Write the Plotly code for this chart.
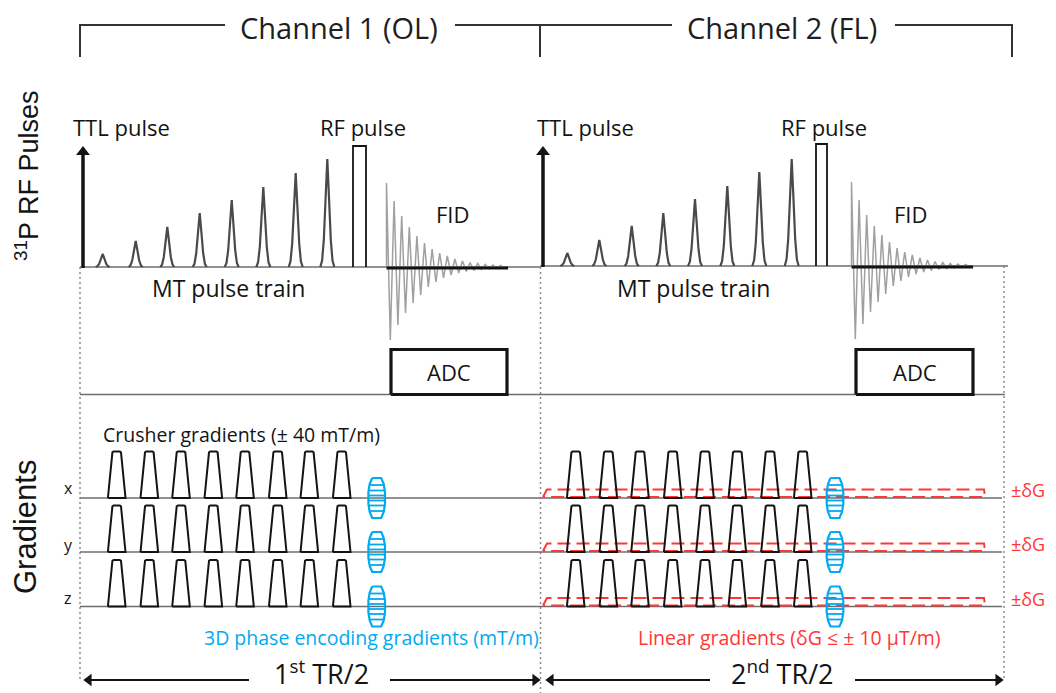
import plotly.graph_objects as go

W, H = 1056, 693

# ---------------- data (diagram coordinates: time -> x, amplitude -> y) ----------------
bracket_x = [80, 540, 1012]
bracket_y = [25, 57]
ch_titles = ["Channel 1 (OL)", "Channel 2 (FL)"]
ch_title_x = [339, 782]
ch_title_gap = [(225, 455), (672, 895)]

rf_base = [267, 266]
ttl_t = [83, 543]
ttl_top = 146
mt_t_ch1 = [102.7, 135.7, 167.3, 199.7, 231.7, 263.3, 295.7, 327.3]
mt_amp_ch1 = [13, 26, 40, 54, 67, 80, 94, 108]
mt_t_ch2 = [567.3, 599.3, 631.7, 663.3, 695.0, 727.3, 759.3, 791.7]
mt_amp_ch2 = [13, 26, 40, 53, 67, 80, 94, 107]
mt_profile_dt = [-7, -5.2, -3.5, -1.8, 0, 1.8, 3.5, 5.2, 7]
mt_profile = [0, 0.06, 0.25, 0.62, 1, 0.62, 0.25, 0.06, 0]
rf_start = [353, 816]
rf_end = [366, 827]
rf_amp = [121, 122]

fid_start = [386.5, 851.5]
fid_halfperiod = 3.8
fid_up = [84, 66, 51, 40, 31, 24, 18, 14, 11, 8, 6, 4.5, 3.5, 2.5, 2, 1.5]
fid_down = [73, 58, 46, 36, 28, 20, 15, 11, 8, 6, 4.5, 3.5, 2.5, 2, 1.5, 1]

adc_base = 394.5
adc_start = [391, 856]
adc_end = [507, 973]
adc_height = 45

grad_base = [498, 552, 606.5]
grad_labels = ["x", "y", "z"]
crusher_t_ch1 = [116.7, 149.3, 181.0, 213.3, 245.0, 277.7, 309.3, 341.7]
crusher_t_ch2 = [575.7, 608.3, 640.0, 672.7, 705.0, 737.3, 770.0, 802.7]
crusher_amp = 46.5
crusher_half_bottom = 8.8
crusher_half_top = 3.7
pe_t = [376.7, 835.0]
pe_outline_dx = [-4.5, 4.5, 7, 8.3, 8.3, 7, 4.5, -4.5, -7, -8.3, -8.3, -7, -4.5]
pe_outline_dy = [-20, -20, -14, -6, 6, 14, 20, 20, 14, 6, -6, -14, -20]
pe_stripe_dy = [-13, -7.5, -2.5, 2.5, 7.5, 13]
pe_stripe_dx = [6.5, 8, 8.3, 8.3, 8, 6.5]
lin_start, lin_end, lin_amp = 543, 985, 8.5

tr_y = 680
tr_segments = [(249, 84), (390, 540), (710, 546), (855, 1003)]
dotted_x = [80, 540.5, 1004]
dotted_y0 = [267, 267, 266]
dotted_y1 = [680, 693, 680]

BLACK = "#141414"
GRAY = "#6e6e6e"
BLUE = "rgb(0,170,240)"
RED = "rgb(255,55,55)"
FONT = "Open Sans"

fig = go.Figure()


def add_line(xs, ys, color=BLACK, width=2, dash=None):
    fig.add_trace(go.Scatter(x=xs, y=ys, mode="lines",
                             line=dict(color=color, width=width, dash=dash),
                             hoverinfo="skip", showlegend=False))


def add_head(x, y, symbol, size, color=BLACK):
    fig.add_trace(go.Scatter(x=[x], y=[y], mode="markers",
                             marker=dict(symbol=symbol, size=size, color=color,
                                         line=dict(width=0)),
                             hoverinfo="skip", showlegend=False))


# dotted time boundaries
for x, y0, y1 in zip(dotted_x, dotted_y0, dotted_y1):
    add_line([x, x], [y0, y1], color="#8a8a8a", width=1.5, dash="2px,3px")

# header brackets
for i in range(2):
    xl, xr = bracket_x[i], bracket_x[i + 1]
    g0, g1 = ch_title_gap[i]
    add_line([xl, xl, g0], [bracket_y[1], bracket_y[0], bracket_y[0]], color="#333333", width=2)
    add_line([g1, xr, xr], [bracket_y[0], bracket_y[0], bracket_y[1]], color="#333333", width=2)

# RF baselines
add_line([80, 540], [rf_base[0], rf_base[0]], color=GRAY, width=1.5)
add_line([540, 1008], [rf_base[1], rf_base[1]], color=GRAY, width=1.5)

# MT pulse trains
for ch, (ts, amps) in enumerate([(mt_t_ch1, mt_amp_ch1), (mt_t_ch2, mt_amp_ch2)]):
    b = rf_base[ch]
    xs, ys = [], []
    for t, a in zip(ts, amps):
        xs += [t + d for d in mt_profile_dt] + [None]
        ys += [b - a * p for p in mt_profile] + [None]
    add_line(xs, ys, color="#4a4a4a", width=2.2)

# RF hard pulses
for ch in range(2):
    b = rf_base[ch]
    add_line([rf_start[ch], rf_start[ch], rf_end[ch], rf_end[ch]],
             [b, b - rf_amp[ch], b - rf_amp[ch], b], color=BLACK, width=1.8)

# FID
for ch in range(2):
    b = rf_base[ch]
    xs, ys = [fid_start[ch]], [b]
    t = fid_start[ch]
    for up, dn in zip(fid_up, fid_down):
        xs += [t, t + fid_halfperiod]
        ys += [b - up, b + dn]
        t += 2 * fid_halfperiod
    xs.append(t)
    ys.append(b)
    add_line(xs, ys, color="#a0a0a0", width=1.5)
    add_line([fid_start[ch], t], [b + 1, b + 1], color=BLACK, width=3)

# TTL arrows
for ch in range(2):
    add_line([ttl_t[ch], ttl_t[ch]], [rf_base[ch] + 1, ttl_top + 8], color=BLACK, width=3.5)
    add_head(ttl_t[ch], ttl_top + 6, "triangle-up", 12)

# ADC row
add_line([80, 1005], [adc_base, adc_base], color=GRAY, width=1.5)
for ch in range(2):
    add_line([adc_start[ch], adc_start[ch], adc_end[ch], adc_end[ch], adc_start[ch]],
             [adc_base, adc_base - adc_height, adc_base - adc_height, adc_base, adc_base],
             color=BLACK, width=3.2)

# Gradient rows
for b in grad_base:
    add_line([80, 1002], [b, b], color=GRAY, width=1.6)

# red linear gradients (channel 2)
for b in grad_base:
    add_line([lin_start, lin_start + 4, lin_end - 1, lin_end, lin_start],
             [b - 1, b - lin_amp, b - lin_amp, b - 1, b - 1],
             color=RED, width=2, dash="13px,6px")

# crusher gradients
for ts in (crusher_t_ch1, crusher_t_ch2):
    for b in grad_base:
        xs, ys = [], []
        for t in ts:
            xs += [t - crusher_half_bottom, t - crusher_half_top - 0.6, t - crusher_half_top + 0.6,
                   t + crusher_half_top - 0.6, t + crusher_half_top + 0.6, t + crusher_half_bottom,
                   t - crusher_half_bottom, None]
            ys += [b, b - crusher_amp + 0.8, b - crusher_amp, b - crusher_amp,
                   b - crusher_amp + 0.8, b, b, None]
        add_line(xs, ys, color=BLACK, width=2)

# 3D phase encoding gradient tables
for t in pe_t:
    for b in grad_base:
        add_line([t + d for d in pe_outline_dx], [b + d for d in pe_outline_dy], color=BLUE, width=2.2)
        xs, ys = [], []
        for dy, dx in zip(pe_stripe_dy, pe_stripe_dx):
            xs += [t - dx, t + dx, None]
            ys += [b + dy, b + dy, None]
        add_line(xs, ys, color=BLUE, width=1.8)

# TR/2 arrows
for x0, x1 in tr_segments:
    step = 6 if x1 > x0 else -6
    add_line([x0, x1 - step], [tr_y, tr_y], color=BLACK, width=2)
    add_head(x1 - step * 0.8, tr_y, "triangle-right" if x1 > x0 else "triangle-left", 11)


def txt(x, y, s, size, color=BLACK, family=FONT, angle=0):
    fig.add_annotation(x=x, y=y, text=s, showarrow=False, xref="x", yref="y",
                       textangle=angle, xanchor="center", yanchor="middle",
                       font=dict(family=family, size=size, color=color))


for x, s in zip(ch_title_x, ch_titles):
    txt(x, 27, s, 29, color="#1e1e1e")

txt(121.5, 127, "TTL pulse", 22)
txt(585, 127, "TTL pulse", 22)
txt(363, 127, "RF pulse", 22)
txt(824, 127, "RF pulse", 22)
txt(452, 214, "FID", 22)
txt(910, 214, "FID", 22)
txt(228.5, 288, "MT pulse train", 23)
txt(693.5, 288, "MT pulse train", 23)
txt(449, 372, "ADC", 22)
txt(914.5, 372, "ADC", 22)
txt(241, 434, "Crusher gradients (± 40 mT/m)", 19.5)
for b, lab, dy in zip(grad_base, grad_labels, [-10, -7, -9]):
    txt(68, b + dy, lab, 16)
for b in grad_base:
    txt(1028, b - 8, "±δG", 18, color=RED)
txt(371, 637, "3D phase encoding gradients (mT/m)", 19.5, color=BLUE)
txt(789, 637, "Linear gradients (δG ≤ ± 10 μT/m)", 19.5, color=RED)
txt(321, 672, "1<sup>st</sup> TR/2", 27)
txt(782, 672, "2<sup>nd</sup> TR/2", 27)
txt(27, 176, "<sup>31</sup>P RF Pulses", 27, family="Liberation Sans", angle=-90)
txt(25, 527, "Gradients", 31, family="Liberation Sans", angle=-90)

fig.update_layout(
    width=W, height=H, margin=dict(l=0, r=0, t=0, b=0),
    paper_bgcolor="white", plot_bgcolor="white", showlegend=False,
    xaxis=dict(range=[0, W], visible=False, fixedrange=True),
    yaxis=dict(range=[H, 0], visible=False, fixedrange=True),
)

fig.write_html("out.html")
